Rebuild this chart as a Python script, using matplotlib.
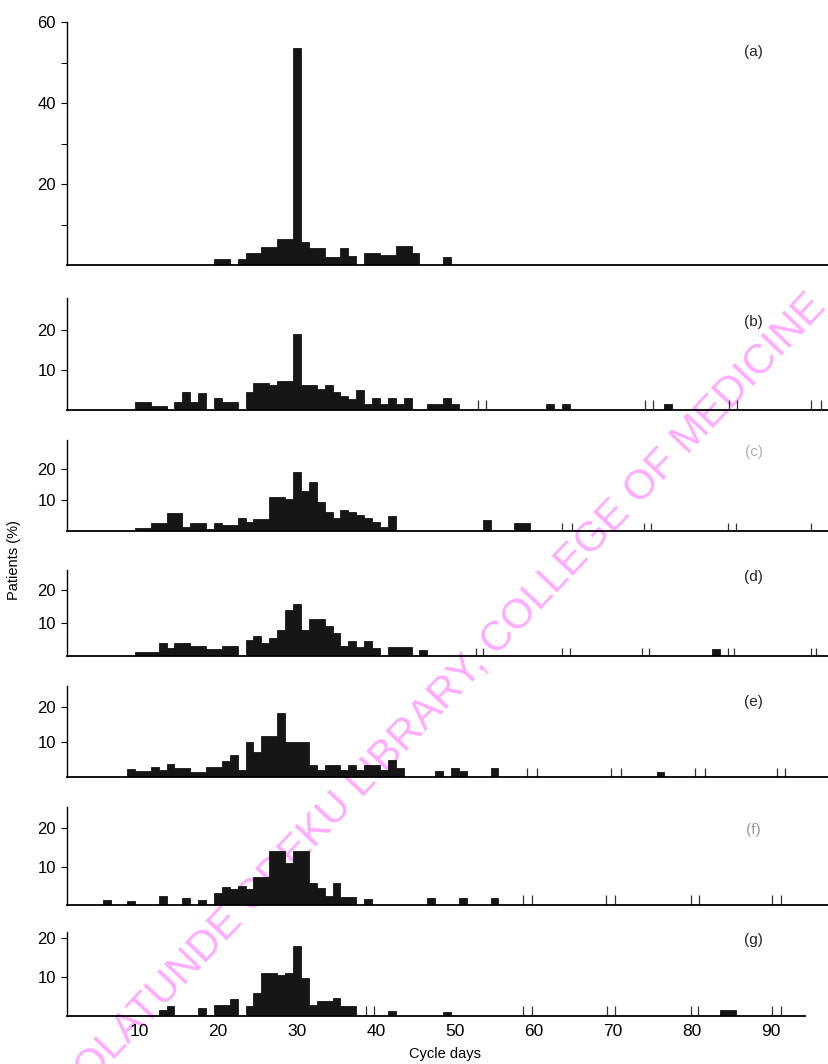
import numpy as np
import matplotlib
matplotlib.use('Agg')
import matplotlib.pyplot as plt

plt.rcParams['font.family'] = ['Liberation Sans', 'DejaVu Sans']

# patients (%) per cycle day; each list starts at the given day
start_a = 20
pct_a = [1.6, 1.6, 0, 1.6, 2.9, 2.9, 4.5, 4.5, 6.5, 6.5, 53.5, 5.7, 4.3, 4.3, 2.0,
         2.0, 4.3, 2.2, 0, 3.0, 3.0, 2.5, 2.5, 4.8, 4.8, 2.9, 0, 0, 0, 2.1]

start_b = 10
pct_b = [2.0, 2.0, 1.0, 1.0, 0, 2.0, 4.6, 2.0, 4.3, 0, 2.9, 1.9, 1.9, 0, 4.4, 6.8,
         6.8, 6.2, 7.2, 7.2, 19.0, 6.2, 6.2, 5.3, 6.3, 4.4, 3.6, 2.7, 4.9, 1.5, 2.9,
         1.5, 2.9, 1.5, 2.9, 0, 0, 1.5, 1.5, 2.9, 1.5]
far_days_b = [62, 64, 77]
far_pct_b = [1.5, 1.5, 1.5]
marks_b = [52.9, 53.9, 74.1, 75.1, 84.7, 85.7, 95.1, 96.3]

start_c = 10
pct_c = [1.0, 1.0, 2.6, 2.6, 5.9, 5.9, 1.4, 2.6, 2.6, 0.6, 2.6, 1.9, 1.9, 4.1, 2.8,
         3.9, 3.9, 11.1, 11.1, 10.2, 18.9, 12.8, 15.8, 9.4, 6.1, 4.2, 6.9, 6.1,
         5.3, 4.2, 2.8, 1.3, 4.7]
far_days_c = [54, 58, 59]
far_pct_c = [3.5, 2.5, 2.5]
marks_c = [63.5, 64.8, 73.9, 74.8, 84.5, 85.6, 95.1]

start_d = 10
pct_d = [1.25, 1.25, 1.25, 4.0, 2.4, 3.9, 3.9, 2.9, 2.9, 2.1, 2.1, 3.0, 3.0, 0, 4.8,
         6.0, 3.9, 5.4, 7.8, 14.0, 15.8, 7.8, 11.3, 11.3, 9.1, 6.9, 2.9, 4.6, 2.7,
         4.6, 2.4, 0, 2.7, 2.7, 2.7, 0, 1.8]
far_days_d = [83]
far_pct_d = [2.0]
marks_d = [52.6, 53.6, 63.5, 64.5, 73.7, 74.6, 84.5, 85.3, 95.1, 95.7]

start_e = 9
pct_e = [2.4, 1.7, 1.7, 3.0, 2.1, 3.8, 2.7, 2.7, 1.4, 1.4, 3.0, 3.0, 4.5, 6.2, 2.1,
         10.0, 7.1, 11.8, 11.8, 18.3, 10.0, 10.0, 10.0, 3.3, 2.1, 3.3, 3.3, 2.1,
         3.3, 2.1, 3.3, 3.3, 2.1, 4.8, 2.7]
far_days_e = [48, 50, 51, 55, 76]
far_pct_e = [1.7, 2.7, 1.7, 2.5, 1.5]
marks_e = [59.1, 60.4, 69.7, 71.0, 80.4, 81.6, 90.7, 91.8]

start_f = 6
pct_f = [1.3, 0, 0, 1.0, 0, 0, 0, 2.4, 0, 0, 1.7, 0, 1.4, 0, 3.2, 4.8, 4.2, 5.0, 4.2,
         7.2, 7.2, 14.1, 14.1, 11.0, 14.1, 14.1, 5.8, 4.3, 2.3, 5.8, 2.1, 2.1]
far_days_f = [39, 47, 51, 55]
far_pct_f = [1.5, 1.7, 1.7, 1.7]
marks_f = [58.6, 59.7, 69.1, 70.2, 79.8, 80.9, 90.1, 91.2]

start_g = 13
pct_g = [1.5, 2.6, 0, 0, 0, 2.0, 0, 2.7, 2.7, 4.3, 0, 2.6, 6.0, 11.0, 11.0, 10.4,
         11.0, 17.8, 9.8, 2.9, 3.8, 3.8, 4.6, 2.5, 2.5]
far_days_g = [42, 49, 84, 85]
far_pct_g = [1.4, 1.0, 1.6, 1.6]
marks_g = [38.7, 39.7, 58.6, 59.7, 69.2, 70.2, 79.8, 80.7, 90.1, 91.2]

labels = ['(a)', '(b)', '(c)', '(d)', '(e)', '(f)', '(g)']
xtick_days = [10, 20, 30, 40, 50, 60, 70, 80, 90]

panels = [
    (start_a, pct_a, [], [], []),
    (start_b, pct_b, far_days_b, far_pct_b, marks_b),
    (start_c, pct_c, far_days_c, far_pct_c, marks_c),
    (start_d, pct_d, far_days_d, far_pct_d, marks_d),
    (start_e, pct_e, far_days_e, far_pct_e, marks_e),
    (start_f, pct_f, far_days_f, far_pct_f, marks_f),
    (start_g, pct_g, far_days_g, far_pct_g, marks_g),
]

# layout: (bottom, height) in figure fraction, y top limit, label position
rects = [(0.7509, 0.2284), (0.6147, 0.1053), (0.5009, 0.0860), (0.3835, 0.0808),
         (0.2697, 0.0855), (0.1494, 0.0923), (0.0451, 0.0790)]
ytops = [60, 28, 29.5, 26, 26, 25.5, 21.5]
label_y = [52.5, 22, 25.5, 24, 21.4, 19.5, 19.5]
label_col = ['#222222', '#222222', '#b0b0b0', '#222222', '#222222', '#999999', '#222222']

ink = '#161616'
fig = plt.figure(figsize=(8.29, 10.64), dpi=100)

# library watermark of the scanned page (runs off the page corners, as in the scan)
fig.text(0.544, 0.353, 'OLATUNDE ODEKU LIBRARY, COLLEGE OF MEDICINE',
         rotation=46.5, rotation_mode='anchor', ha='center', va='center',
         fontsize=30, color='#ff9cff', alpha=0.85, zorder=-5)

for i, (start, pct, fdays, fpct, marks) in enumerate(panels):
    ax = fig.add_axes([0.0808, rects[i][0], 0.919, rects[i][1]])
    ax.patch.set_alpha(0)
    days = np.arange(start, start + len(pct))
    ax.bar(days, pct, width=1.0, color=ink, edgecolor=ink, linewidth=0.6)
    if fdays:
        ax.bar(fdays, fpct, width=1.0, color=ink, edgecolor=ink, linewidth=0.6)
    if marks:
        ax.vlines(marks, 0, 2.5, color='#333333', lw=0.9)

    ax.set_xlim(0.9, 97.3)
    ax.set_ylim(0, ytops[i])
    for s in ['top', 'right']:
        ax.spines[s].set_visible(False)
    ax.spines['bottom'].set_linewidth(1.3)
    ax.spines['left'].set_linewidth(1.0)

    if i == 0:
        ax.set_yticks([20, 40, 60])
        ax.set_yticks([10, 30, 50], minor=True)
        ax.tick_params(axis='y', which='minor', length=4, width=0.7)
    else:
        ax.set_yticks([10, 20])
    ax.tick_params(axis='y', labelsize=12, length=4, width=0.8, pad=4)

    if i == len(panels) - 1:
        ax.set_xticks(xtick_days)
        ax.tick_params(axis='x', labelsize=12.5, length=0, pad=6)
        ax.spines['bottom'].set_bounds(0.9, 94.3)
    else:
        ax.set_xticks([])

    ax.text(87.8, label_y[i], labels[i], fontsize=11, ha='center', va='center',
            color=label_col[i])

fig.text(0.017, 0.474, 'Patients (%)', rotation=90, fontsize=10.5,
         ha='center', va='center')
fig.text(0.537, 0.009, 'Cycle days', fontsize=10.5, ha='center', va='center')

fig.savefig('out.png', dpi=100)
